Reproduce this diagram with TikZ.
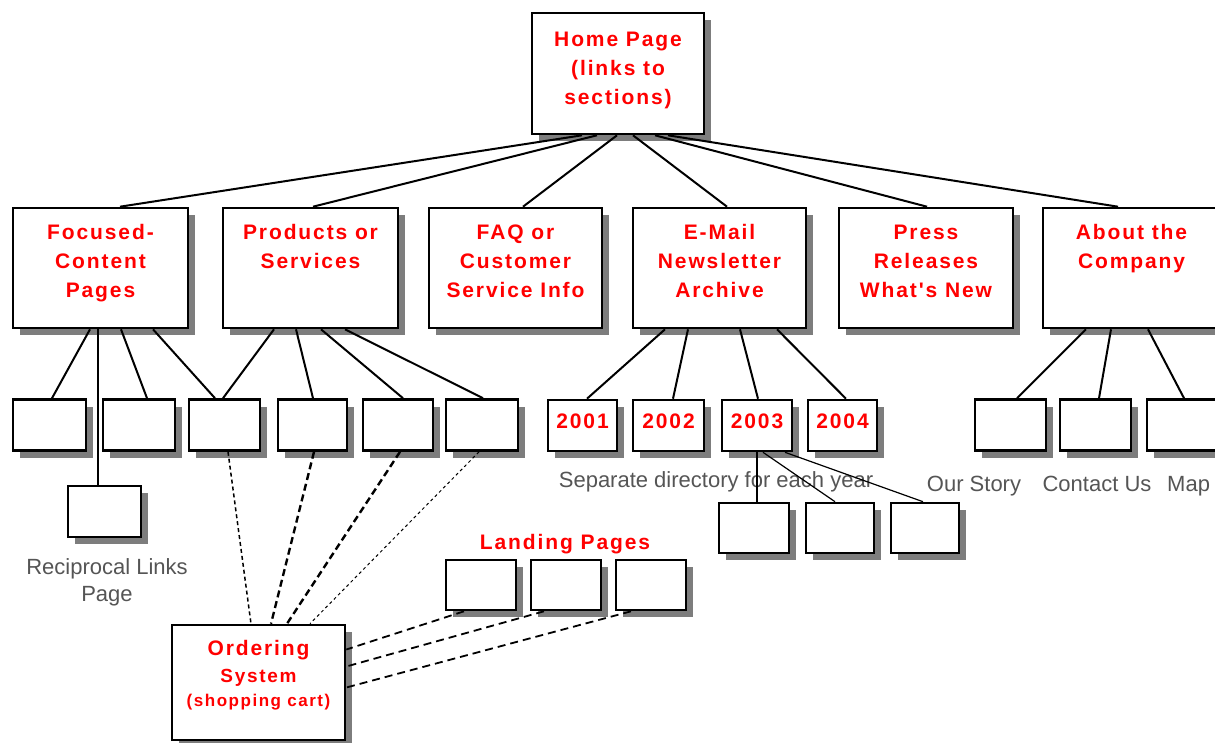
\documentclass[tikz,border=0pt]{standalone}
\usepackage{fontspec}
\setmainfont{Liberation Sans}
\newfontfamily\redlbl{Liberation Sans}[LetterSpace=9]
\usetikzlibrary{shadows}
\definecolor{lblred}{RGB}{255,0,0}
\definecolor{shadowgray}{RGB}{125,125,125}
\definecolor{greytext}{RGB}{85,85,85}
\newcommand{\toptext}[3]{\parbox[c][#1][t]{#2}{\centering\strut #3}}
\begin{document}
\begin{tikzpicture}[x=1pt,y=-1pt,
  box/.style={draw=black, line width=2.6pt, fill=white, inner sep=0pt,
    drop shadow={shadow xshift=7pt, shadow yshift=-7pt, fill=shadowgray, opacity=1}},
  redfont/.style={font=\redlbl\bfseries\fontsize{21}{29}\selectfont, text=lblred},
  secbox/.style={box, redfont, minimum height=120pt},
  sbox/.style={box, minimum width=70pt, minimum height=51pt},
  yearbox/.style={sbox, redfont, text height=15pt, text depth=10pt},
  greylbl/.style={font=\fontsize{22}{27}\selectfont, text=greytext, inner sep=0pt},
  conn/.style={line width=2pt},
  thinconn/.style={line width=1.2pt},
  dashA/.style={line width=1.5pt, dash pattern=on 4pt off 3pt},
  dashB/.style={line width=2.4pt, dash pattern=on 7pt off 4pt},
  dashC/.style={line width=1pt, dash pattern=on 3pt off 3pt},
  dashL/.style={line width=1.8pt, dash pattern=on 8pt off 5pt}
]
\useasboundingbox (0,0) rectangle (1215,742);
\fill[white] (0,0) rectangle (1215,742);
\clip (0,0) rectangle (1215,742);

% top
\node[box, redfont, minimum width=172pt, minimum height=121pt] (home) at (618,73.5)
  {\toptext{95.6pt}{165pt}{Home Page\\(links to\\sections)}};

% sections
\node[secbox, minimum width=175pt] (foc) at (100.5,268) {\toptext{98.6pt}{168pt}{Focused-\\Content\\Pages}};
\node[secbox, minimum width=175pt] (prod) at (310.5,268) {\toptext{98.6pt}{168pt}{Products or\\Services}};
\node[secbox, minimum width=173pt] (faq) at (515.5,268) {\toptext{98.6pt}{168pt}{FAQ or\\Customer\\Service Info}};
\node[secbox, minimum width=173pt] (email) at (719.5,268) {\toptext{98.6pt}{168pt}{E-Mail\\Newsletter\\Archive}};
\node[secbox, minimum width=174pt] (press) at (926,268) {\toptext{98.6pt}{168pt}{Press\\Releases\\What's New}};
\node[secbox, minimum width=177pt] (about) at (1131.5,268) {\toptext{98.6pt}{170pt}{About the\\Company}};

% small boxes under focused / products
\node[sbox, minimum width=73pt] (fa) at (49.5,425) {};
\node[sbox, minimum width=72pt] (fb) at (139,425) {};
\node[sbox, minimum width=71pt] (fc) at (224.5,425) {};
\node[sbox, minimum width=69pt] (pd) at (312.5,425) {};
\node[sbox] (pe) at (398,425) {};
\node[sbox, minimum width=72pt] (pf) at (482,425) {};
\node[sbox, minimum width=73pt] (recip) at (104.5,511.5) {};

% years
\node[yearbox, minimum width=69pt] (y1) at (582.5,425.5) {2001};
\node[yearbox, minimum width=71pt] (y2) at (668.5,425.5) {2002};
\node[yearbox] (y3) at (757,425.5) {2003};
\node[yearbox, minimum width=69pt] (y4) at (842.5,425.5) {2004};

% 2003 sub pages
\node[sbox, minimum height=50pt] (s1) at (754,528) {};
\node[sbox, minimum width=68pt, minimum height=50pt] (s2) at (840,528) {};
\node[sbox, minimum width=68pt, minimum height=50pt] (s3) at (925,528) {};

% about children
\node[sbox, minimum width=71pt] (k1) at (1010.5,425) {};
\node[sbox, minimum width=71pt] (k2) at (1095.5,425) {};
\node[sbox, minimum width=71pt] (k3) at (1182.5,425) {};

% landing pages
\node[sbox, minimum height=50pt] (l1) at (481,585) {};
\node[sbox, minimum height=50pt] (l2) at (566,585) {};
\node[sbox, minimum height=50pt] (l3) at (651,585) {};

% ordering system
\node[box, font=\redlbl\bfseries, text=lblred, minimum width=173pt, minimum height=115pt] (order) at (258.5,682.5)
  {\parbox[c][92.8pt][t]{168pt}{\centering
    {\fontsize{21}{27}\selectfont\strut Ordering\par}
    {\fontsize{19}{27}\selectfont System\par}
    {\fontsize{17}{24}\selectfont (shopping cart)\par}}};

% texts
\node[redfont, inner sep=0pt, anchor=base] (landlbl) at (565,549) {Landing Pages};
\node[greylbl, align=center, anchor=north] (reciplbl) at (107,558) {Reciprocal Links\\Page};
\node[greylbl, anchor=base] (sepdir) at (716,487) {Separate directory for each year};
\node[greylbl, anchor=base] (story) at (974,491) {Our Story};
\node[greylbl, anchor=base] (contact) at (1097,491) {Contact Us};
\node[greylbl, anchor=base west] (map) at (1167,491) {Map};

% home -> sections
\draw[conn] ([xshift=-36pt]home.south) -- ([xshift=19.5pt]foc.north);
\draw[conn] ([xshift=-21pt]home.south) -- ([xshift=2.5pt]prod.north);
\draw[conn] ([xshift=-1pt]home.south) -- ([xshift=7.5pt]faq.north);
\draw[conn] ([xshift=15pt]home.south) -- ([xshift=7.5pt]email.north);
\draw[conn] ([xshift=37pt]home.south) -- ([xshift=1pt]press.north);
\draw[conn] ([xshift=50pt]home.south) -- ([xshift=-13.5pt]about.north);

% focused -> children
\draw[conn] ([xshift=-10.5pt]foc.south) -- ([xshift=2.5pt]fa.north);
\draw[conn] ([xshift=-2.5pt]foc.south) -- ([xshift=-6.5pt]recip.north);
\draw[conn] ([xshift=20.5pt]foc.south) -- ([xshift=8pt]fb.north);
\draw[conn] ([xshift=52.5pt]foc.south) -- ([xshift=-9.5pt]fc.north);

% products -> children
\draw[conn] ([xshift=-36.5pt]prod.south) -- ([xshift=-1.5pt]fc.north);
\draw[conn] ([xshift=-14.5pt]prod.south) -- ([xshift=0.5pt]pd.north);
\draw[conn] ([xshift=10.5pt]prod.south) -- ([xshift=5pt]pe.north);
\draw[conn] ([xshift=34.5pt]prod.south) -- ([xshift=1pt]pf.north);

% email -> years
\draw[conn] ([xshift=-54.5pt]email.south) -- ([xshift=4.5pt]y1.north);
\draw[conn] ([xshift=-31.5pt]email.south) -- ([xshift=4.5pt]y2.north);
\draw[conn] ([xshift=20.5pt]email.south) -- ([xshift=1pt]y3.north);
\draw[conn] ([xshift=57.5pt]email.south) -- ([xshift=3.5pt]y4.north);

% 2003 -> sub pages
\draw[thinconn] (y3.south) -- ([xshift=3pt]s1.north);
\draw[thinconn] ([xshift=6pt]y3.south) -- ([xshift=-5pt]s2.north);
\draw[thinconn] ([xshift=28pt]y3.south) -- ([xshift=-2pt]s3.north);

% about -> children
\draw[conn] ([xshift=-45.5pt]about.south) -- ([xshift=6.5pt]k1.north);
\draw[conn] ([xshift=-20.5pt]about.south) -- ([xshift=3.5pt]k2.north);
\draw[conn] ([xshift=16.5pt]about.south) -- ([xshift=1.5pt]k3.north);

% pages -> ordering (dashed)
\draw[dashA] ([xshift=3.5pt]fc.south) -- ([xshift=-7.5pt]order.north);
\draw[dashB] ([xshift=1.5pt]pd.south) -- ([xshift=12.5pt]order.north);
\draw[dashB] ([xshift=2pt]pe.south) -- ([xshift=28.5pt]order.north);
\draw[dashC] ([xshift=-3pt]pf.south) -- ([xshift=51.5pt]order.north);

% landing -> ordering (dashed)
\draw[dashL] ([xshift=-17pt]l1.south) -- ([yshift=33pt]order.east);
\draw[dashL] ([xshift=-22pt]l2.south) -- ([yshift=16pt]order.east);
\draw[dashL] ([xshift=-20pt]l3.south) -- ([yshift=-5pt]order.east);
\end{tikzpicture}
\end{document}
